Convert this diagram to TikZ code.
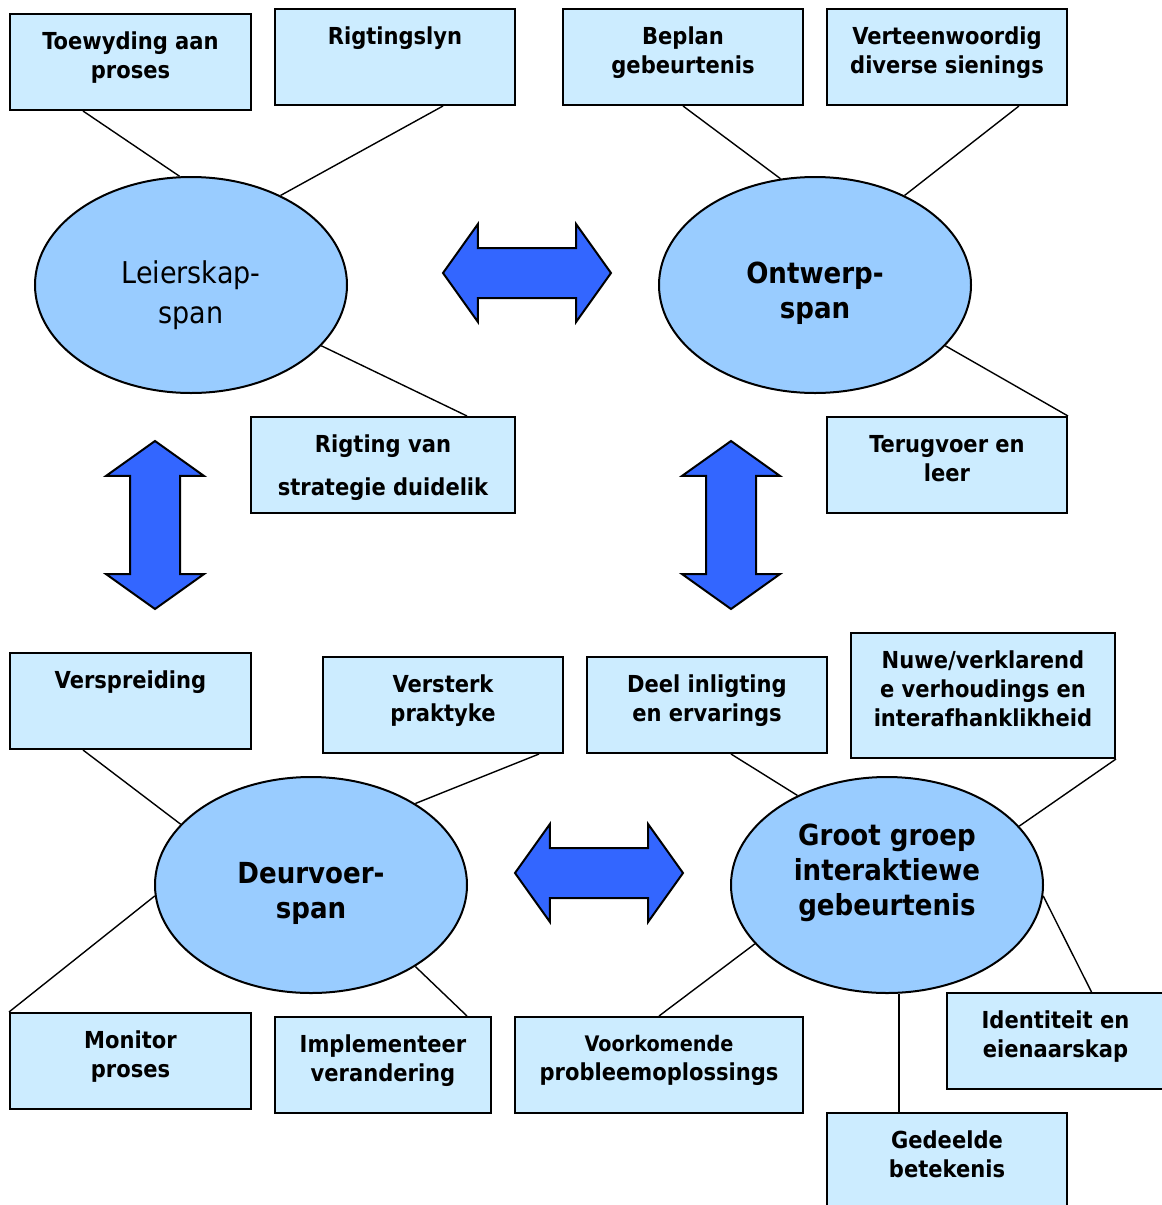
\documentclass[tikz,border=0pt]{standalone}
\usepackage{fontspec}
\setmainfont{DejaVu Sans Condensed}
\usetikzlibrary{shapes.geometric,shapes.arrows}
\definecolor{boxblue}{HTML}{CCECFF}
\definecolor{teamblue}{HTML}{99CCFF}
\definecolor{pijlblue}{HTML}{3366FF}
\tikzset{
  box/.style={draw, line width=1pt, fill=boxblue, minimum width=120pt, minimum height=48pt, inner sep=0pt},
  boxtext/.style={anchor=north, align=center, inner sep=0pt, yshift=-9.3pt,
    font=\bfseries\fontsize{11.7}{14.5}\selectfont},
  team/.style={ellipse, draw, line width=1pt, fill=teamblue, minimum width=156pt, minimum height=108pt, inner sep=0pt},
  teamtext/.style={align=center, inner sep=0pt, font=\bfseries\fontsize{14.5}{17.5}\selectfont},
  link/.style={line width=0.7pt},
  pijl/.style={double arrow, draw, line width=1pt, fill=pijlblue, minimum width=48pt, minimum height=84pt,
    double arrow head extend=12pt, double arrow tip angle=109, inner sep=12pt},
}
\begin{document}
\begin{tikzpicture}[x=0.5pt,y=-0.5pt]
  \useasboundingbox (0,0) rectangle (1162,1205);
  \clip (0,0) rectangle (1162,1205);
  % spanne
  \node[team, label={[teamtext, font=\fontsize{15}{20}\selectfont, yshift=-5pt]center:Leierskap-\\span}] (leier) at (191,285) {};
  \node[team, label={[teamtext, yshift=-4pt]center:Ontwerp-\\span}] (ontw) at (815,285) {};
  \node[team, label={[teamtext, yshift=-4pt]center:Deurvoer-\\span}] (deur) at (311,885) {};
  \node[team, label={[teamtext, yshift=6pt]center:Groot groep\\interaktiewe\\gebeurtenis}] (groot) at (887,885) {};
  % blokkies
  \node[box, minimum width=120.5pt] (toew) at (130.5,62) {};
  \node[box] (rigl) at (395,57) {};
  \node[box] (bepl) at (683,57) {};
  \node[box] (vert) at (947,57) {};
  \node[box, minimum width=132pt] (rigs) at (383,465) {};
  \node[box] (teru) at (947,465) {};
  \node[box, minimum width=120.5pt] (vers) at (130.5,701) {};
  \node[box] (vstk) at (443,705) {};
  \node[box] (deel) at (707,705) {};
  \node[box, minimum width=132pt, minimum height=62.5pt] (nuwe) at (983,695.5) {};
  \node[box, minimum width=120.5pt] (moni) at (130.5,1061) {};
  \node[box, minimum width=108pt] (impl) at (383,1065) {};
  \node[box, minimum width=144pt] (voor) at (659,1065) {};
  \node[box, minimum width=109pt] (iden) at (1055.5,1041) {};
  \node[box] (gede) at (947,1161) {};
  % teks in die blokkies
  \node[boxtext] (toew-t) at (toew.north) {Toewyding aan\\proses};
  \node[boxtext] (rigl-t) at (rigl.north) {Rigtingslyn};
  \node[boxtext] (bepl-t) at (bepl.north) {Beplan\\gebeurtenis};
  \node[boxtext] (vert-t) at (vert.north) {Verteenwoordig\\diverse sienings};
  \node[boxtext, font=\bfseries\fontsize{11.7}{21.5}\selectfont] (rigs-t) at (rigs.north) {Rigting van\\strategie duidelik};
  \node[boxtext] (teru-t) at (teru.north) {Terugvoer en\\leer};
  \node[boxtext] (vers-t) at (vers.north) {Verspreiding};
  \node[boxtext] (vstk-t) at (vstk.north) {Versterk\\praktyke};
  \node[boxtext] (deel-t) at (deel.north) {Deel inligting\\en ervarings};
  \node[boxtext] (nuwe-t) at (nuwe.north) {Nuwe/verklarend\\e verhoudings en\\interafhanklikheid};
  \node[boxtext] (moni-t) at (moni.north) {Monitor\\proses};
  \node[boxtext] (impl-t) at (impl.north) {Implementeer\\verandering};
  \node[boxtext] (voor-t) at (voor.north) {{\fontsize{10.7}{14.5}\selectfont Voorkomende}\\probleemoplossings};
  \node[boxtext] (iden-t) at (iden.north) {Identiteit en\\eienaarskap};
  \node[boxtext] (gede-t) at (gede.north) {Gedeelde\\betekenis};
  % pyle
  \node[pijl] (pijlbo) at (527,273) {};
  \node[pijl, rotate=90] (pijllinks) at (155,525) {};
  \node[pijl, rotate=90] (pijlregs) at (731,525) {};
  \node[pijl] (pijlonder) at (599,873) {};
  % lyne
  \draw[link] ([xshift=-23.75pt]toew.south) -- (leier.96);
  \draw[link] ([xshift=24pt]rigl.south) -- (leier.45);
  \draw[link] (leier.-25) -- ([xshift=42pt]rigs.north);
  \draw[link] (bepl.south) -- (ontw.108);
  \draw[link] ([xshift=36pt]vert.south) -- (ontw.45);
  \draw[link] (ontw.-25) -- (teru.north east);
  \draw[link] ([xshift=-23.75pt]vers.south) -- (deur.155);
  \draw[link] ([xshift=48pt]vstk.south) -- (deur.38);
  \draw[link] ([xshift=12pt]deel.south) -- (groot.135);
  \draw[link] (nuwe.south east) -- (groot.24);
  \draw[link] (deur.184) -- (moni.north west);
  \draw[link] (deur.-38) -- ([xshift=42pt]impl.north);
  \draw[link] (groot.204) -- (voor.north);
  \coordinate (gedetop) at ([xshift=-24pt]gede.north);
  \draw[link] (gedetop) -- (gedetop |- groot.south);
  \draw[link] (groot.-4) -- ([xshift=18pt]iden.north);
\end{tikzpicture}
\end{document}
